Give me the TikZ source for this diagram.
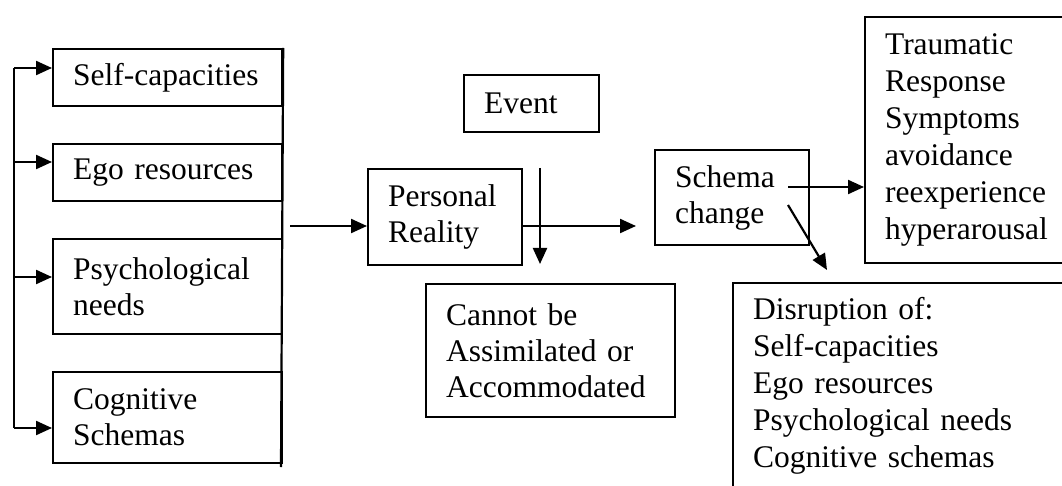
\documentclass[tikz,border=0pt]{standalone}
\usepackage{fontspec}
\setmainfont{Liberation Serif}
\usetikzlibrary{arrows.meta}
\begin{document}
\begin{tikzpicture}[x=1pt,y=-1pt,
  box/.style={draw, line width=2.2pt, anchor=north west, inner xsep=20pt, inner ysep=0pt,
              align=left, font=\fontsize{31.5}{36}\selectfont},
  arr/.style={line width=2.2pt, -{Triangle[length=16pt,width=14pt]}},
  ln/.style={line width=2.2pt}]
\useasboundingbox (0,0) rectangle (1062,486);
\clip (0,0) rectangle (1062,486);

% left column
\node[box, text width=189pt, minimum height=57pt] (self) at (52,48) {Self-capacities};
\node[box, text width=189pt, minimum height=57pt] (ego) at (52,143) {Ego resources};
\node[box, text width=189pt, minimum height=95pt] (psych) at (52,238) {Psychological\\needs};
\node[box, text width=189pt, minimum height=91pt] (cog) at (52,371) {Cognitive\\Schemas};

% middle
\node[box, text width=95pt, minimum height=57pt] (event) at (463,74) {Event};
\node[box, text width=114pt, minimum height=96pt] (pr) at (367,168) {Personal\\Reality};
\node[box, text width=209pt, minimum height=133pt] (cannot) at (425,283) {Cannot be\\Assimilated or\\Accommodated};

% right
\node[box, text width=114pt, minimum height=95pt] (schema) at (654,149) {Schema\\change};
\node[box, text width=171pt, minimum height=246pt, font=\fontsize{31.5}{37}\selectfont] (trauma) at (864,16)
  {Traumatic\\Response\\Symptoms\\avoidance\\reexperience\\hyperarousal};
\node[box, text width=308pt, inner ysep=14pt, text depth=200pt, font=\fontsize{31.5}{37}\selectfont] (disr) at (732,282)
  {Disruption of:\\Self-capacities\\Ego resources\\Psychological needs\\Cognitive schemas};

% left bracket
\coordinate (b1) at (14,68);
\coordinate (b2) at (14,162);
\coordinate (b3) at (14,277);
\coordinate (b4) at (14,428);
\draw[ln] (b1) -- (b4);
\draw[arr] (b1) -- (self.west |- b1);
\draw[arr] (b2) -- (ego.west |- b2);
\draw[arr] (b3) -- (psych.west |- b3);
\draw[arr] (b4) -- (cog.west |- b4);

% right spine of the left column
\coordinate (sb) at (281,467);
\draw[ln] (self.north east) -- (sb);

% main flow
\coordinate (a0) at (290,226);
\draw[arr] (a0) -- (pr.west |- a0);
\coordinate (a1) at (636,226);
\draw[arr] (pr.east |- a0) -- (a1);
\coordinate (v0) at (540,168);
\coordinate (v1) at (540,264);
\draw[arr] (v0) -- (v1);
\coordinate (s0) at (788,187);
\draw[arr] (s0) -- (trauma.west |- s0);
\coordinate (d0) at (788,205);
\coordinate (d1) at (827,270);
\draw[arr] (d0) -- (d1);
\end{tikzpicture}
\end{document}
